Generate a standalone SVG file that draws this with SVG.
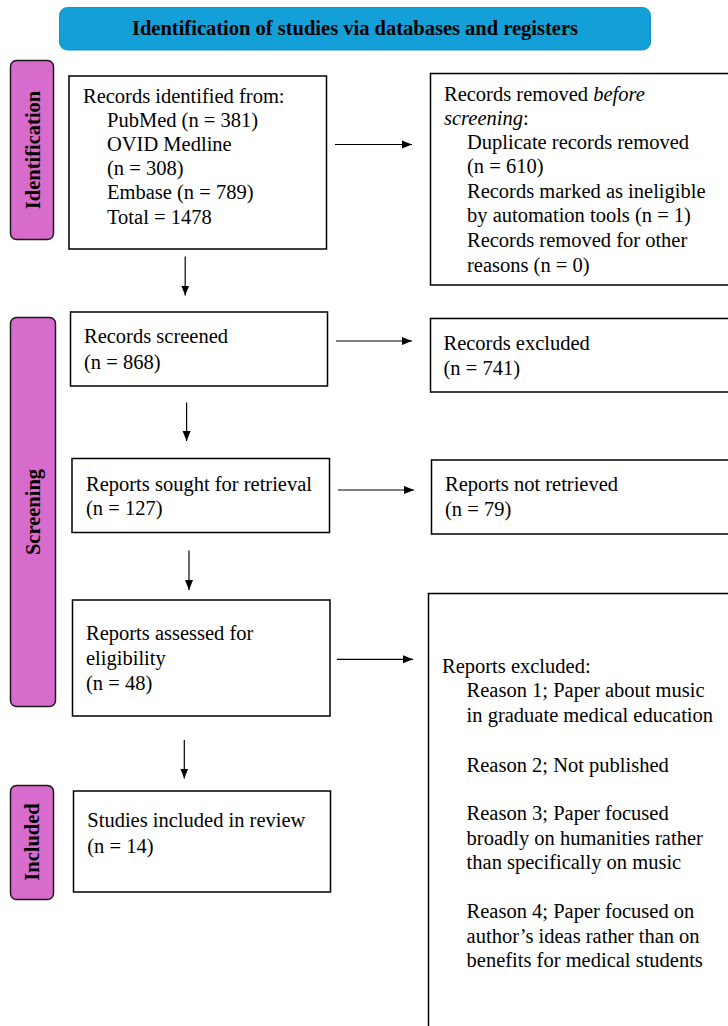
<svg xmlns="http://www.w3.org/2000/svg" width="728" height="1026" viewBox="0 0 728 1026">
<style>
  .box { fill: #ffffff; stroke: #000000; stroke-width: 1.5; }
  .side { fill: #d86ccc; stroke: #1a1a1a; stroke-width: 1.5; }
  .hdr { fill: #139fd7; stroke: #1b8fc0; stroke-width: 1; }
  .t { font-family: "Liberation Serif", "Times New Roman", serif; font-size: 20.5px; fill: #000000; }
  .b { font-family: "Liberation Serif", "Times New Roman", serif; font-size: 20.5px; font-weight: bold; fill: #000000; }
  .conn line { stroke: #000000; stroke-width: 1.2; fill: none; }
</style>
<defs>
  <marker id="ah" markerUnits="userSpaceOnUse" markerWidth="10" markerHeight="10" viewBox="0 0 10 10" refX="10" refY="5" orient="auto">
    <path d="M0,1 L10,5 L0,9 Z" fill="#000000"/>
  </marker>
</defs>
<rect width="728" height="1026" fill="#ffffff"/>

<g id="header">
  <rect class="hdr" x="59.5" y="7.5" width="591" height="42.5" rx="8"/>
  <text class="b" x="355" y="34.5" text-anchor="middle">Identification of studies via databases and registers</text>
</g>

<g id="label-identification">
  <rect class="side" x="10.5" y="60.5" width="43" height="179" rx="6"/>
  <text class="b" transform="translate(40,150) rotate(-90)" text-anchor="middle">Identification</text>
</g>
<g id="label-screening">
  <rect class="side" x="10.5" y="317.5" width="45" height="389" rx="6"/>
  <text class="b" transform="translate(40,512) rotate(-90)" text-anchor="middle">Screening</text>
</g>
<g id="label-included">
  <rect class="side" x="10.5" y="785.5" width="43" height="114" rx="6"/>
  <text class="b" transform="translate(39,842) rotate(-90)" text-anchor="middle">Included</text>
</g>

<g id="records-identified">
  <rect class="box" x="69" y="76" width="257.5" height="173"/>
  <text class="t" x="83" y="102.7">Records identified from:</text>
  <text class="t" x="107" y="126.7">PubMed (n = 381)</text>
  <text class="t" x="107" y="150.7">OVID Medline</text>
  <text class="t" x="107" y="175">(n = 308)</text>
  <text class="t" x="107" y="199.3">Embase (n = 789)</text>
  <text class="t" x="107" y="224">Total = 1478</text>
</g>

<g id="records-removed">
  <rect class="box" x="430.5" y="73.5" width="310" height="211.5"/>
  <text class="t" x="444" y="100.7">Records removed <tspan font-style="italic">before</tspan></text>
  <text class="t" x="444" y="125"><tspan font-style="italic">screening</tspan>:</text>
  <text class="t" x="467" y="149.3">Duplicate records removed</text>
  <text class="t" x="467" y="173.3">(n = 610)</text>
  <text class="t" x="467" y="198.3">Records marked as ineligible</text>
  <text class="t" x="467" y="221.7">by automation tools (n = 1)</text>
  <text class="t" x="467" y="247.3">Records removed for other</text>
  <text class="t" x="467" y="271.7">reasons (n = 0)</text>
</g>

<g id="records-screened">
  <rect class="box" x="70.5" y="312" width="257" height="74"/>
  <text class="t" x="84" y="343.3">Records screened</text>
  <text class="t" x="84" y="369">(n = 868)</text>
</g>

<g id="records-excluded">
  <rect class="box" x="430.5" y="318.5" width="310" height="73.5"/>
  <text class="t" x="443.5" y="350">Records excluded</text>
  <text class="t" x="443.5" y="375">(n = 741)</text>
</g>

<g id="reports-sought">
  <rect class="box" x="72" y="458.5" width="257.5" height="74"/>
  <text class="t" x="86" y="490.7">Reports sought for retrieval</text>
  <text class="t" x="86" y="515">(n = 127)</text>
</g>

<g id="reports-not-retrieved">
  <rect class="box" x="431.5" y="460" width="310" height="74"/>
  <text class="t" x="445" y="491">Reports not retrieved</text>
  <text class="t" x="445" y="516">(n = 79)</text>
</g>

<g id="reports-assessed">
  <rect class="box" x="72.5" y="600" width="257.5" height="116"/>
  <text class="t" x="86" y="640">Reports assessed for</text>
  <text class="t" x="86" y="665">eligibility</text>
  <text class="t" x="86" y="690">(n = 48)</text>
</g>

<g id="reports-excluded">
  <rect class="box" x="428.5" y="593.5" width="320" height="450"/>
  <text class="t" x="442" y="673.3">Reports excluded:</text>
  <text class="t" x="466.6" y="697.3">Reason 1; Paper about music</text>
  <text class="t" x="466.6" y="721.7">in graduate medical education</text>
  <text class="t" x="466.6" y="771.7">Reason 2; Not published</text>
  <text class="t" x="466.6" y="820">Reason 3; Paper focused</text>
  <text class="t" x="466.6" y="845">broadly on humanities rather</text>
  <text class="t" x="466.6" y="869.3">than specifically on music</text>
  <text class="t" x="466.6" y="918.3">Reason 4; Paper focused on</text>
  <text class="t" x="466.6" y="942.7">author’s ideas rather than on</text>
  <text class="t" x="466.6" y="966.7">benefits for medical students</text>
</g>

<g id="studies-included">
  <rect class="box" x="73.5" y="791" width="257" height="101"/>
  <text class="t" x="87.3" y="827.3">Studies included in review</text>
  <text class="t" x="87.3" y="852.7">(n = 14)</text>
</g>

<g id="connectors" class="conn">
  <line x1="335" y1="144.5" x2="412" y2="144.5" marker-end="url(#ah)"/>
  <line x1="185.2" y1="256.5" x2="185.2" y2="295.5" marker-end="url(#ah)"/>
  <line x1="336" y1="341" x2="412" y2="341" marker-end="url(#ah)"/>
  <line x1="186.6" y1="402.5" x2="186.6" y2="441" marker-end="url(#ah)"/>
  <line x1="338" y1="490" x2="414" y2="490" marker-end="url(#ah)"/>
  <line x1="189" y1="550.5" x2="189" y2="590" marker-end="url(#ah)"/>
  <line x1="337" y1="659.3" x2="413" y2="659.3" marker-end="url(#ah)"/>
  <line x1="184.3" y1="740" x2="184.3" y2="778.5" marker-end="url(#ah)"/>
</g>
</svg>
